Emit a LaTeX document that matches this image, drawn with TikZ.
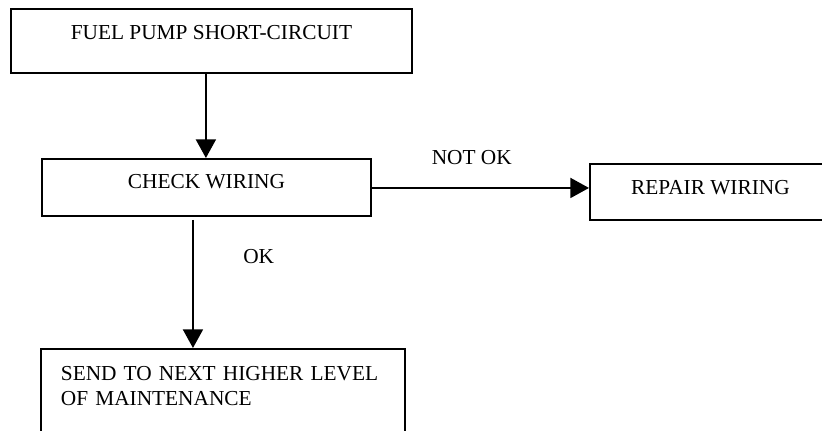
\documentclass[tikz,border=0pt]{standalone}
\usepackage{fontspec}
\setmainfont{Liberation Serif}
\usepackage{tikz}
\usetikzlibrary{arrows.meta}

\begin{document}
\begin{tikzpicture}[box/.style={draw, line width=1.4pt, anchor=north west, text height=10.6pt},
    arrow/.style={line width=1.5pt, -{Triangle[length=14pt,width=15pt]}},
    font=\fontsize{16}{18.75}\selectfont]
    \useasboundingbox (0,0) rectangle (616.5pt,-323.25pt);
    \clip (0,0) rectangle (616.5pt,-323.25pt);
    \node[box, minimum width=300.75pt, minimum height=48pt, text depth=12.1pt] (fuel) at (7.5pt,-6pt) {FUEL PUMP SHORT-CIRCUIT};
    \node[box, minimum width=246.75pt, minimum height=42.75pt, text depth=8.4pt] (check) at (30.75pt,-118.5pt) {CHECK WIRING};
    \node[box, minimum width=180.75pt, minimum height=42pt, text depth=6.1pt] (repair) at (441.75pt,-122.25pt) {REPAIR WIRING};
    \node[box, text width=243pt, align=left, inner xsep=15pt, inner ysep=12.75pt, text height=, text depth=70pt] (maint) at (30pt,-261pt) {SEND TO NEXT HIGHER LEVEL\\OF MAINTENANCE};
    \draw[arrow] ([xshift=-0.4pt]check.north |- fuel.south) -- ([xshift=-0.4pt]check.north);
    \draw[arrow] ([yshift=-0.4pt]check.east) -- ([yshift=-0.4pt]check.east -| repair.west) node[pos=0.46, above=17.25pt, inner sep=0pt, anchor=base] (notok) {NOT OK};
    \draw[arrow] ([xshift=-10.1pt,yshift=-2.25pt]check.south) -- ([xshift=-10.1pt]check.south |- maint.north) node[pos=0.285, right=37pt, inner sep=0pt] (ok) {OK};
\end{tikzpicture}
\end{document}
